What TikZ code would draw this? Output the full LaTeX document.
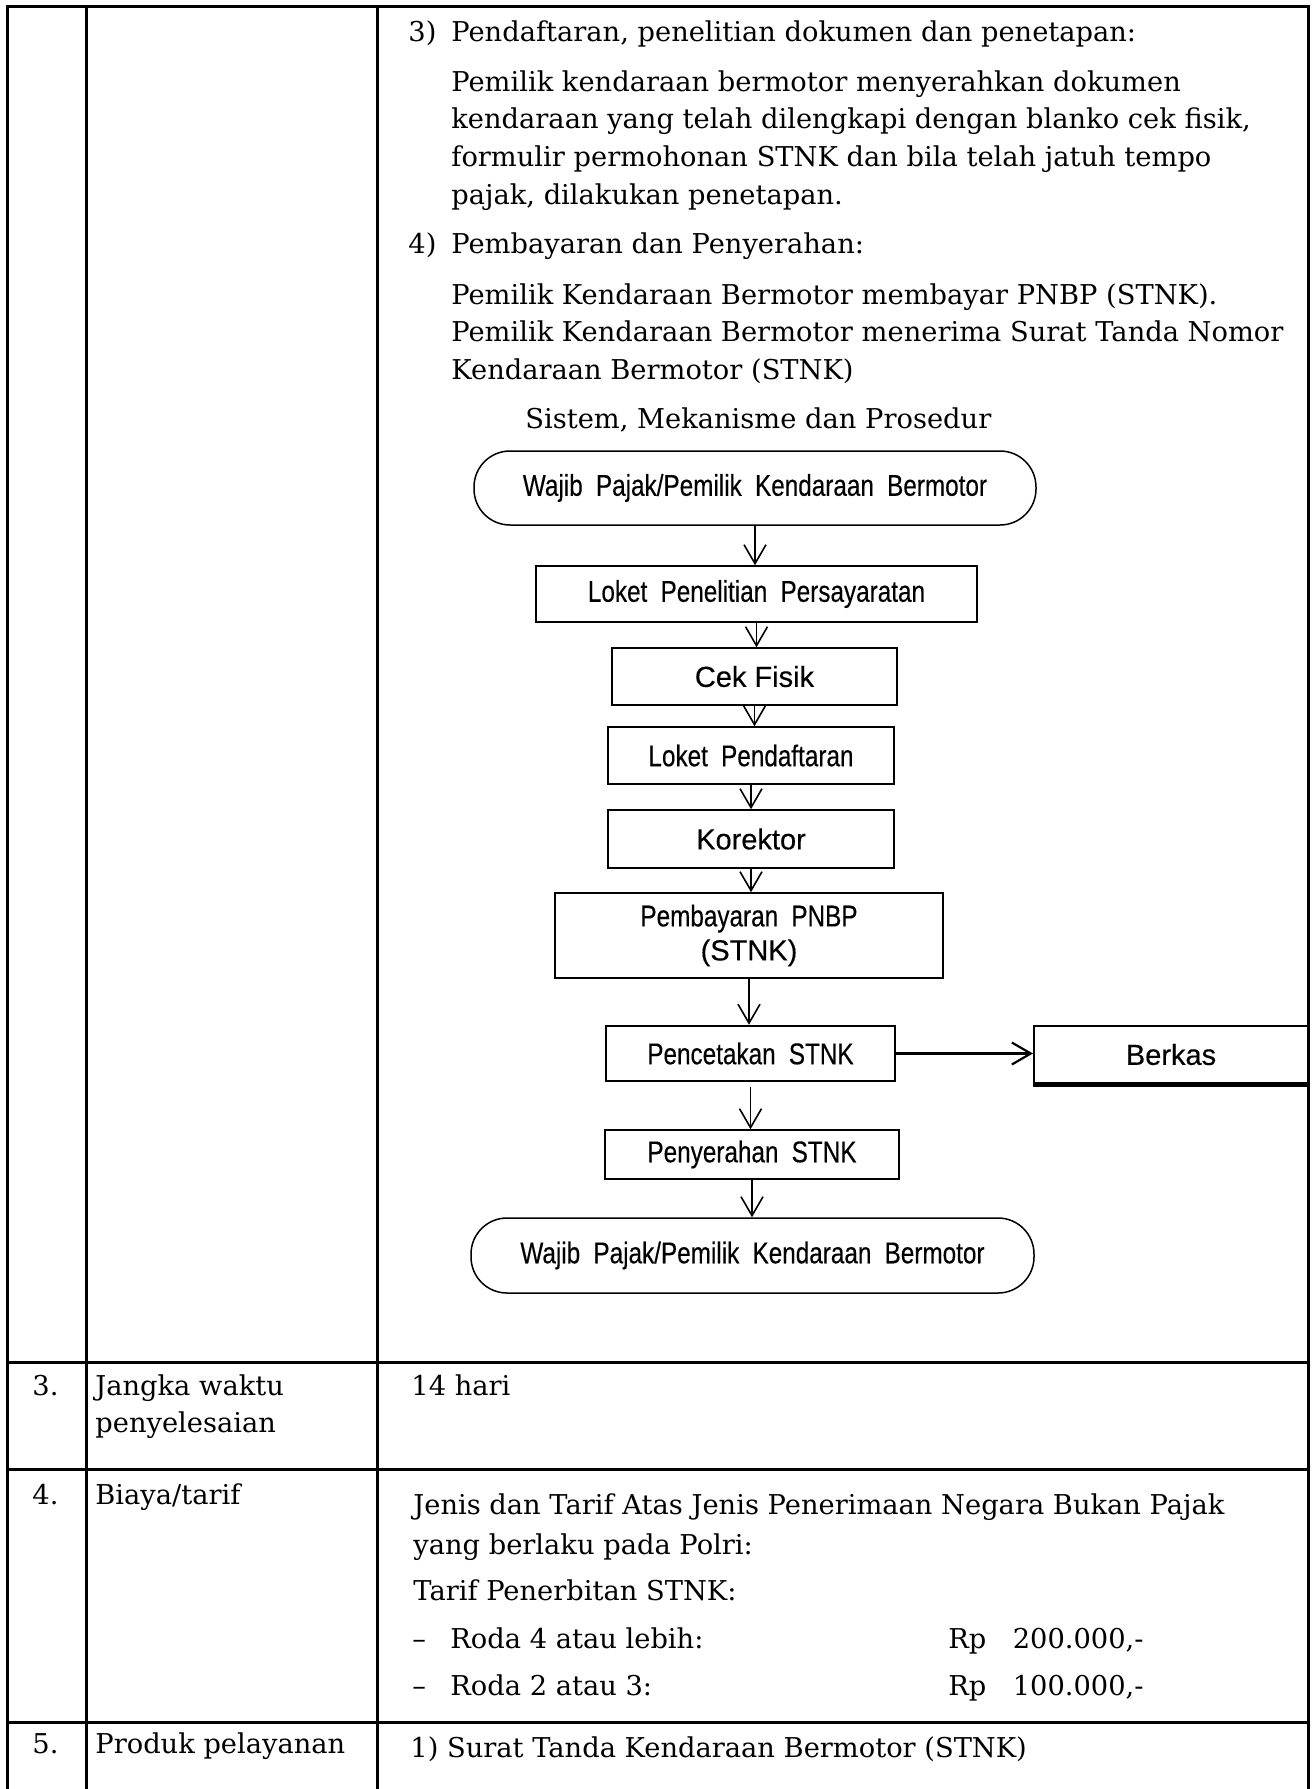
\documentclass[tikz,border=0pt]{standalone}
\usepackage{fontspec}
\setmainfont{DejaVu Serif}
\newfontfamily\flownarrow[FakeStretch=0.81,FakeBold=0.3,WordSpace=0.8]{Liberation Sans}
\newfontfamily\flowspaced[FakeStretch=0.81,FakeBold=0.3,WordSpace=1.4]{Liberation Sans}
\newfontfamily\flowplain[FakeBold=0.3]{Liberation Sans}
\newcommand{\bigflow}{\flowplain\fontsize{14.5pt}{17pt}\selectfont}
\usetikzlibrary{arrows.meta}

\begin{document}
\begin{tikzpicture}[x=0.5pt, y=-0.5pt,
        txt/.style={anchor=base west, inner sep=0pt, font=\fontsize{13.65pt}{16pt}\selectfont},
        txtr/.style={txt, anchor=base east},
        box/.style={draw, line width=0.75pt, inner sep=0pt, align=center,
            font=\flownarrow\fontsize{15pt}{18pt}\selectfont},
        term/.style={box, rounded corners=18pt},
        flow/.style={line width=0.8pt, -{Straight Barb[length=9.5pt, width=11pt]}},
        grid/.style={line width=1.5pt}]
    \useasboundingbox (0,0) rectangle (1313,1789);

    % table
    \draw[grid] (7,1789) -- (7,6) -- (1308,6) -- (1308,1789);
    \draw[grid] (86,6) -- (86,1789);
    \draw[grid] (377,6) -- (377,1789);
    \draw[grid] (7,1362) -- (1308,1362);
    \draw[grid] (7,1469) -- (1308,1469);
    \draw[grid] (7,1722) -- (1308,1722);

    % text above the chart
    \node (n3) [txt] at (408,41) {3)};
    \node (s3) [txt] at (451,41) {Pendaftaran, penelitian dokumen dan penetapan:};
    \node (p1) [txt] at (451,91) {Pemilik kendaraan bermotor menyerahkan dokumen};
    \node (p2) [txt] at (451,128) {kendaraan yang telah dilengkapi dengan blanko cek fisik,};
    \node (p3) [txt] at (451,166) {formulir permohonan STNK dan bila telah jatuh tempo};
    \node (p4) [txt] at (451,204) {pajak, dilakukan penetapan.};
    \node (n4) [txt] at (408,253) {4)};
    \node (s4) [txt] at (451,253) {Pembayaran dan Penyerahan:};
    \node (q1) [txt] at (451,304) {Pemilik Kendaraan Bermotor membayar PNBP (STNK).};
    \node (q2) [txt] at (451,341) {Pemilik Kendaraan Bermotor menerima Surat Tanda Nomor};
    \node (q3) [txt] at (451,379) {Kendaraan Bermotor (STNK)};
    \node (judul) [txt] at (525,428) {Sistem, Mekanisme dan Prosedur};

    % flowchart
    \node (WP1) [term, minimum width=281pt, minimum height=37pt] at (755,488)
        {\flowspaced Wajib Pajak/Pemilik Kendaraan Bermotor};
    \node (LPP) [box, minimum width=220.5pt, minimum height=28pt] at (756.5,594)
        {\flowspaced Loket Penelitian Persayaratan};
    \node (CF) [box, minimum width=142.5pt, minimum height=28.5pt] at (754.5,676.5) {\bigflow Cek Fisik};
    \node (LP) [box, minimum width=143pt, minimum height=28.5pt] at (751,755.5) {\flowspaced Loket Pendaftaran};
    \node (KR) [box, minimum width=143pt, minimum height=29pt] at (751,839) {\bigflow Korektor};
    \node (PB) [box, minimum width=194pt, minimum height=42.5pt] at (749,935.5)
        {Pembayaran PNBP\\[-1pt]{\bigflow (STNK)}};
    \node (PC) [box, line width=1.25pt, minimum width=144.5pt, minimum height=27.5pt] at (750.5,1053.5)
        {Pencetakan STNK};
    \node (BK) [box, line width=1pt, minimum width=137pt, minimum height=28.5pt] at (1171,1054.5) {\bigflow Berkas};
    \draw[line width=2.5pt] (BK.south west) -- (BK.south east);
    \node (PS) [box, minimum width=147pt, minimum height=24.5pt] at (752,1154.5) {Penyerahan STNK};
    \node (WP2) [term, minimum width=281.5pt, minimum height=37.5pt] at (752.5,1255.5)
        {\flowspaced Wajib Pajak/Pemilik Kendaraan Bermotor};

    \draw[flow] (WP1) -- (WP1 |- LPP.north);
    \draw[flow] (LPP) -- (LPP |- CF.north);
    \draw[flow] (CF) -- (CF |- LP.north);
    \draw[flow] (LP) -- (LP |- KR.north);
    \draw[flow] (KR) -- (KR |- PB.north);
    \draw[flow] (PB) -- (PB |- PC.north);
    %
    \draw[flow, line width=1.1pt] (PC.east) -- (PC.east -| BK.west);
    \draw[flow, shorten <=2.5pt] (PC) -- (PC |- PS.north);
    \draw[flow] (PS) -- (PS |- WP2.north);

    % rows 3 to 5
    \node (r3) [txt] at (32,1395) {3.};
    \node (r3a) [txt] at (95,1395) {Jangka waktu};
    \node (r3b) [txt] at (95,1432) {penyelesaian};
    \node (r3c) [txt] at (411,1395) {14 hari};
    %
    \node (r4) [txt] at (32,1504) {4.};
    \node (r4a) [txt] at (95,1504) {Biaya/tarif};
    \node (b1) [txt] at (413,1514) {Jenis dan Tarif Atas Jenis Penerimaan Negara Bukan Pajak};
    \node (b2) [txt] at (413,1554) {yang berlaku pada Polri:};
    \node (b3) [txt] at (413,1600) {Tarif Penerbitan STNK:};
    \node (d1) [txt] at (412,1648) {–};
    \node (b4) [txt] at (450,1648) {Roda 4 atau lebih:};
    \node (rp1) [txt] at (948,1648) {Rp};
    \node (v1) [txtr] at (1144,1648) {200.000,-};
    \node (d2) [txt] at (412,1695) {–};
    \node (b5) [txt] at (450,1695) {Roda 2 atau 3:};
    \node (rp2) [txt] at (948,1695) {Rp};
    \node (v2) [txtr] at (1144,1695) {100.000,-};
    %
    \node (r5) [txt] at (32,1753) {5.};
    \node (r5a) [txt] at (95,1753) {Produk pelayanan};
    \node (k1) [txt] at (410,1757) {1) Surat Tanda Kendaraan Bermotor (STNK)};
\end{tikzpicture}
\end{document}
